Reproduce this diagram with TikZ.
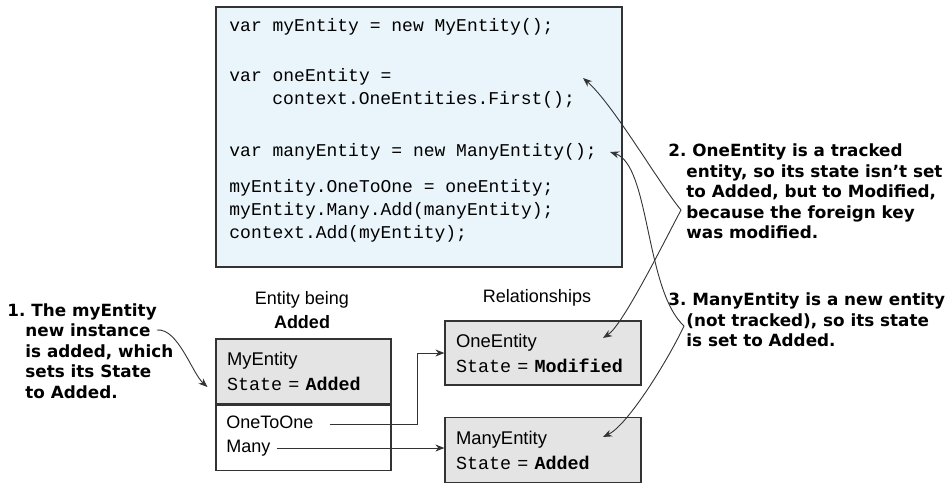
\documentclass[tikz,border=0pt]{standalone}
\usepackage{fontspec}
\setsansfont{Liberation Sans}
\setmonofont{Liberation Mono}
\newfontfamily\notefont{DejaVu Sans}
\usepackage{tikz}
\usetikzlibrary{positioning,arrows.meta,calc}

\definecolor{codeblue}{HTML}{EAF5FB}
\definecolor{boxgray}{HTML}{E4E4E4}
\definecolor{inkgray}{HTML}{333333}

\begin{document}
\begin{tikzpicture}[
  x=0.5pt,y=0.5pt,
  codebox/.style={rectangle,draw=inkgray,line width=0.65pt,fill=codeblue,inner sep=0pt},
  codeline/.style={anchor=west,inner sep=0pt,font=\ttfamily\fontsize{9}{11}\selectfont,text height=6.5pt,text depth=2pt},
  entbox/.style={rectangle,draw=inkgray,line width=0.6pt,fill=#1,inner xsep=5.5pt,inner ysep=0pt,align=left,font=\sffamily\fontsize{9.2}{12.5}\selectfont},
  fieldtxt/.style={anchor=west,inner sep=0pt,font=\sffamily\fontsize{9}{11}\selectfont,text height=6.5pt,text depth=2pt},
  heading/.style={inner sep=0pt,align=center,font=\sffamily\fontsize{9}{12}\selectfont},
  note/.style={anchor=west,inner sep=0pt,align=left,font=\notefont\bfseries\fontsize{8.4}{10.25}\selectfont},
  link/.style={-{Stealth[length=4.5pt,width=3.5pt]},line width=0.5pt,inkgray},
  callout/.style={-{Stealth[length=4.5pt,width=3.5pt]},line width=0.45pt,inkgray},
]
\useasboundingbox (0,0) rectangle (948,-483);

% ==== CODE (top) ====
\node[codebox,minimum width=203pt,minimum height=130pt] (code) at (419,-137) {};
\node[codeline] (c1) at (229,-27) {var myEntity = new MyEntity();};
\node[codeline] (c2) at (229,-77) {var oneEntity =};
\node[codeline] (c3) at (272,-100) {context.OneEntities.First();};
\node[codeline] (c4) at (229,-152) {var manyEntity = new ManyEntity();};
\node[codeline] (c5) at (229,-188) {myEntity.OneToOne = oneEntity;};
\node[codeline] (c6) at (229,-211) {myEntity.Many.Add(manyEntity);};
\node[codeline] (c7) at (229,-234) {context.Add(myEntity);};

% ==== ENTITIES (bottom) ====
\node[heading] (addhead) at (302,-310) {Entity being\\\textbf{Added}};
\node[heading] (relhead) at (537,-298) {Relationships};

\node[entbox=boxgray,minimum width=87.5pt,minimum height=32.5pt,text width=76.5pt] (myhead) at (303.5,-371.5)
  {MyEntity\\\texttt{State = \textbf{Added}}};
\node[entbox=white,minimum width=87.5pt,minimum height=32.5pt,below=0pt of myhead] (mybody) {};
\node[fieldtxt] (oto) at (226,-424) {OneToOne};
\node[fieldtxt] (many) at (226,-448) {Many};

\node[entbox=boxgray,minimum width=98pt,minimum height=32pt,text width=87pt] (oneent) at (543,-353)
  {OneEntity\\\texttt{State = \textbf{Modified}}};
\node[entbox=boxgray,minimum width=98pt,minimum height=32.5pt,text width=87pt] (manyent) at (543,-450)
  {ManyEntity\\\texttt{State = \textbf{Added}}};

\draw[link] ([xshift=8pt]oto.east) -| ([xshift=-13.5pt]oneent.west) -- (oneent.west);
\draw[link] ([xshift=3pt]many.east) -- (many.east -| manyent.west);

% ==== CALLOUTS ====
\node[note] (note1) at (25,-351) {\llap{1.}\hspace{3pt}The myEntity\\new instance\\is added, which\\sets its State\\to Added.};
\node[note] (note2) at (686,-191.5) {\llap{2.}\hspace{3pt}OneEntity is a tracked\\entity, so its state isn’t set\\to Added, but to Modified,\\because the foreign key\\was modified.};
\node[note] (note3) at (686,-320) {\llap{3.}\hspace{3pt}ManyEntity is a new entity\\(not tracked), so its state\\is set to Added.};

\coordinate (note1end) at (157,-330);
\coordinate (brace2) at (681,-210);
\coordinate (brace3) at (684,-326);
\coordinate (oneCode) at (583,-78);
\coordinate (oneTip) at (603,-338);
\coordinate (manyTip) at (603,-437);

\draw[callout] (note1end) .. controls (178,-328) and (192,-373) .. ([shift={(-4pt,-7.75pt)}]myhead.west);
\draw[callout] (brace2) .. controls (660,-185) and (613,-104) .. (oneCode);
\draw[callout] (brace2) .. controls (665,-240) and (623,-325) .. (oneTip);
\draw[callout] (brace3) .. controls (645,-290) and (650,-165) .. ([xshift=6.5pt]c4.east);
\draw[callout] (brace3) .. controls (668,-360) and (628,-425) .. (manyTip);

\end{tikzpicture}
\end{document}
